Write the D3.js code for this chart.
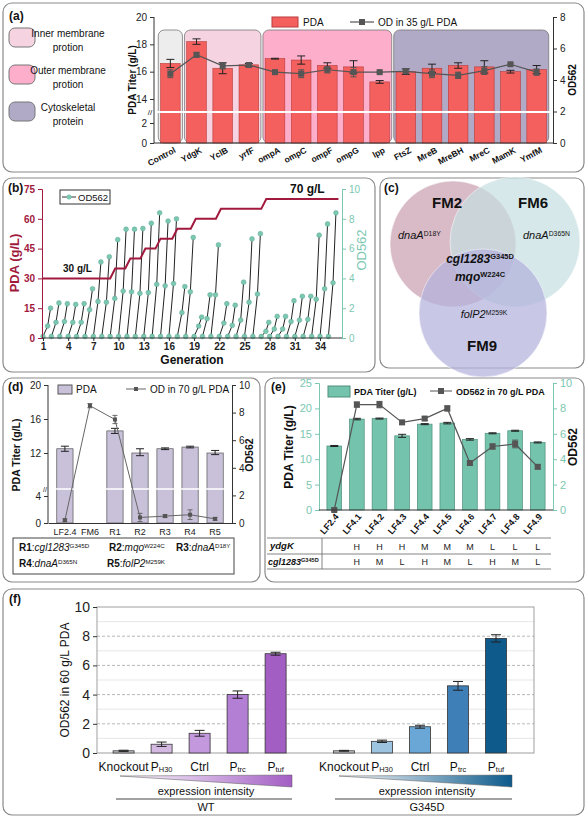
<!DOCTYPE html>
<html><head><meta charset="utf-8">
<script src="https://cdn.jsdelivr.net/npm/d3@7"></script>
<style>
body{margin:0;background:#fff;font-family:"Liberation Sans",Arial,sans-serif}
text{font-family:"Liberation Sans",Arial,sans-serif}
</style></head><body>
<svg id="fig" width="588" height="818"></svg>
<script>
// ---- data: panel (a)
const aGenes = ["Control","YdgK","YclB","yrfF","ompA","ompC","ompF","ompG","lpp","FtsZ","MreB","MreBH","MreC","MamK","YmfM"];
const aPDA = [16.6,18.2,16.25,16.5,16.95,16.85,16.45,16.35,15.25,16.0,16.25,16.45,16.35,16.0,16.15];
const aPDAerr = [0.3,0.2,0.4,0.1,0.03,0.3,0.2,0.45,0.1,0.2,0.3,0.2,0.45,0.1,0.3];
const aOD = [4.4,5.6,4.9,4.95,4.5,4.4,4.65,4.5,4.5,4.55,4.4,4.3,4.6,5.0,4.5];
const aODerr = [0.25,0.15,0.2,0.15,0.1,0.25,0.2,0.3,0.05,0.15,0.25,0.2,0.25,0.05,0.2];
const aGroups = [["Control","Control","#ededed"],["YdgK","yrfF","#f6d3e1"],["ompA","lpp","#fcaecb"],["FtsZ","YmfM","#b1aac6"]];

// ---- panel (b)
const bStep = [[1,30],[9,30],[9.6,35],[10.8,35],[11.4,40],[12.6,40],[13.2,45],[14.4,45],[15,50],[16.4,50],[17,55],[18.6,55],[19.2,60],[21.6,60],[22.2,65],[27,65],[27.6,70],[36.2,70]];
const bPeak = [2.0,2.35,2.3,2.25,2.3,3.3,5.1,5.45,6.6,7.3,7.3,7.35,7.7,8.4,7.85,8.0,3.45,6.75,1.4,2.9,6.25,2.3,2.2,3.75,6.65,7.0,1.05,1.45,1.45,2.5,2.8,2.8,6.9,7.65,8.4];
const bMid = [0.8,1.05,1.1,1.05,1.05,1.9,2.45,2.4,2.65,3.15,3.1,3.0,3.05,3.6,3.5,3.65,1.7,3.1,0.8,1.3,2.9,1.0,0.85,1.2,2.4,2.95,0.45,0.6,0.6,1.1,1.2,1.25,2.6,3.3,3.7];
const bTicks = [1,4,7,10,13,16,19,22,25,28,31,34];

// ---- panel (d)
const dCats = ["LF2.4","FM6","R1","R2","R3","R4","R5"];
const dPDA = [12.5,null,14.6,12.0,12.5,12.7,12.0];
const dPDAerr = [0.3,null,0.3,0.5,0.1,0.1,0.3];
const dOD = [0.2,8.5,7.5,0.4,0.5,0.6,0.3];
const dODerr = [0.1,0.15,0.3,0.3,0.1,0.35,0.1];

// ---- panel (e)
const eCats = ["LF2.4","LF4.1","LF4.2","LF4.3","LF4.4","LF4.5","LF4.6","LF4.7","LF4.8","LF4.9"];
const ePDA = [12.6,17.9,18.0,14.6,16.9,17.1,13.9,15.1,15.6,13.3];
const ePDAerr = [0.1,0.15,0.1,0.3,0.1,0.15,0.15,0.1,0.1,0.1];
const eOD = [0,8.3,8.3,6.9,7.2,8.0,3.7,5.0,5.2,3.4];
const eODerr = [0.1,0.2,0.25,0.15,0.15,0.2,0.15,0.2,0.3,0.15];
const eYdgK = ["","H","H","H","M","M","M","L","L","L"];
const eCgl = ["","H","M","L","H","M","L","H","M","L"];

// ---- panel (f)
const fCats = ["Knockout","PH30","Ctrl","Ptrc","Ptuf"];
const fWT = [0.15,0.6,1.35,4.0,6.8];
const fWTerr = [0.04,0.15,0.2,0.25,0.1];
const fG = [0.15,0.8,1.8,4.6,7.85];
const fGerr = [0.03,0.08,0.1,0.3,0.25];
const fWTcol = ["#c9c2cc","#d3b8e2","#c498dc","#b27fd4","#a35ec4"];
const fGcol = ["#c8cbd0","#9cc3e0","#6ba7d6","#3e7fb8","#0d5a8b"];

const svg = d3.select("#fig");
const box = (x,y,w,h)=>svg.append("rect").attr("x",x).attr("y",y).attr("width",w).attr("height",h)
  .attr("rx",9).attr("fill","none").attr("stroke","#8a8a8a").attr("stroke-width",1.2);
const txt = (g,x,y,s,o={})=>{const t=g.append("text").attr("x",x).attr("y",y).text(s)
  .attr("font-size",o.size||10).attr("fill",o.fill||"#111").attr("text-anchor",o.anchor||"start")
  .attr("font-weight",o.bold?"bold":null).attr("font-style",o.italic?"italic":null);
  if(o.rot!=null) t.attr("transform",`rotate(${o.rot},${x},${y})`); return t;};
// text with super/subscript: parts = [[str, 1=sup/2=sub, italic?, bold?],...]
const rich = (g,x,y,parts,o={})=>{const t=g.append("text").attr("x",x).attr("y",y)
  .attr("font-size",o.size||10).attr("text-anchor",o.anchor||"start").attr("fill","#111");
  parts.forEach(p=>{const s=t.append("tspan").text(p[0]);
    if(p[1]) s.attr("font-size",(o.size||10)*0.62).attr("baseline-shift",p[1]==2?"-15%":"super");
    if(p[2]) s.attr("font-style","italic"); if(p[3]||o.bold) s.attr("font-weight","bold");});
  return t;};
const styleAxis = (g,fs)=>{g.selectAll("text").attr("font-size",fs||10).attr("fill","#222");
  g.selectAll("path,line").attr("stroke","#333");};
const errBar = (g,x,y0,y1,w,col)=>{g.append("line").attr("x1",x).attr("x2",x).attr("y1",y0).attr("y2",y1).attr("stroke",col||"#222");
  [y0,y1].forEach(y=>g.append("line").attr("x1",x-w).attr("x2",x+w).attr("y1",y).attr("y2",y).attr("stroke",col||"#222"));};

// =============== (a)
box(3,3,581,169);
const ga = svg.append("g");
txt(ga,9,20,"(a)",{size:12,bold:true});
const ax = d3.scaleBand().domain(aGenes).range([154,553]).padding(0.25);
const ayL = d3.scaleLinear().domain([0,2,14,20]).range([143,123,99,17]);
const ayR = d3.scaleLinear().domain([0,8]).range([143,17]);
aGroups.forEach(([a,b,c])=>{
  ga.append("rect").attr("x",ax(a)-ax.step()*ax.padding()/2+1).attr("y",30)
    .attr("width",ax(b)+ax.bandwidth()+ax.step()*ax.padding()/2-ax(a)+ax.step()*ax.padding()/2-2)
    .attr("height",143-30).attr("rx",6).attr("fill",c).attr("stroke","#777").attr("stroke-width",0.8);});
ga.selectAll(".abar").data(aGenes).join("rect").attr("x",d=>ax(d)).attr("y",(d,i)=>ayL(aPDA[i]))
  .attr("width",ax.bandwidth()).attr("height",(d,i)=>143-ayL(aPDA[i])).attr("fill","#f3605e").attr("stroke","#b83a3a").attr("stroke-width",0.6);
ga.append("line").attr("x1",155).attr("x2",552).attr("y1",112).attr("y2",112).attr("stroke","#fff").attr("stroke-width",2);
aGenes.forEach((d,i)=>errBar(ga,ax(d)+ax.bandwidth()/2,ayL(aPDA[i]-aPDAerr[i]),ayL(aPDA[i]+aPDAerr[i]),4,"#222"));
const aLine = d3.line().x((d,i)=>ax(aGenes[i])+ax.bandwidth()/2).y(d=>ayR(d));
ga.append("path").attr("d",aLine(aOD)).attr("fill","none").attr("stroke","#555").attr("stroke-width",1.2);
aGenes.forEach((d,i)=>{const x=ax(d)+ax.bandwidth()/2; errBar(ga,x,ayR(aOD[i]-aODerr[i]),ayR(aOD[i]+aODerr[i]),3,"#555");
  ga.append("rect").attr("x",x-3).attr("y",ayR(aOD[i])-3).attr("width",6).attr("height",6).attr("fill","#555");});
const aL = ga.append("g").attr("transform","translate(154,0)").call(d3.axisLeft(ayL).tickValues([0,2,14,16,18,20]).tickSize(4));
styleAxis(aL,10); aL.select(".domain").remove();
ga.append("line").attr("x1",154).attr("x2",154).attr("y1",17).attr("y2",143).attr("stroke","#333");
txt(ga,150,115,"//",{size:8,anchor:"middle"});
const aR = ga.append("g").attr("transform","translate(553,0)").call(d3.axisRight(ayR).ticks(4).tickSize(4));
styleAxis(aR,10);
ga.append("line").attr("x1",154).attr("x2",553).attr("y1",143).attr("y2",143).attr("stroke","#333");
aGenes.forEach(d=>txt(ga,ax(d)+ax.bandwidth()/2+6,152,d,{size:8.5,bold:true,anchor:"end",rot:-28}));
txt(ga,136,80,"PDA Titer (g/L)",{size:10,bold:true,anchor:"middle",rot:-90});
txt(ga,576,80,"OD562",{size:10,bold:true,anchor:"middle",rot:-90});
ga.append("rect").attr("x",272).attr("y",17).attr("width",26).attr("height",10).attr("fill","#f3605e").attr("stroke","#b83a3a");
txt(ga,303,26,"PDA",{size:10});
ga.append("line").attr("x1",350).attr("x2",374).attr("y1",22).attr("y2",22).attr("stroke","#555").attr("stroke-width",1.2);
ga.append("rect").attr("x",359).attr("y",19).attr("width",6).attr("height",6).attr("fill","#555");
txt(ga,378,26,"OD in 35 g/L PDA",{size:10});
[[28,"#f6d3e1","Inner membrane","protion"],[65,"#fcaecb","Outer membrane","protion"],[102,"#b1aac6","Cytoskeletal","protein"]].forEach(([y,c,l1,l2])=>{
  ga.append("rect").attr("x",9).attr("y",y).attr("width",26).attr("height",19).attr("rx",6).attr("fill",c).attr("stroke","#777");
  txt(ga,68,y+9,l1,{size:10,anchor:"middle"}); txt(ga,68,y+23,l2,{size:10,anchor:"middle"});});

// =============== (b)
box(3,178,372,194);
const gb = svg.append("g");
txt(gb,8,192,"(b)",{size:12,bold:true});
const bx = d3.scaleLinear().domain([1,34]).range([43,320]);
const byL = d3.scaleLinear().domain([0,75]).range([338,189]);
const byR = d3.scaleLinear().domain([0,10]).range([338,189]);
bPeak.forEach((p,i)=>{const k=i+1;
  const pts=[[k,0.1],[k+0.55,bMid[i]],[k+0.9,p]];
  gb.append("path").attr("d",d3.line().x(d=>bx(d[0])).y(d=>byR(d[1]))(pts)).attr("fill","none").attr("stroke","#222").attr("stroke-width",1);
  pts.forEach(d=>gb.append("circle").attr("cx",bx(d[0])).attr("cy",byR(d[1])).attr("r",2.4).attr("fill","#7cc7b1").attr("stroke","#5aa893").attr("stroke-width",0.5));});
gb.append("path").attr("d",d3.line().x(d=>bx(d[0])).y(d=>byL(d[1]))(bStep)).attr("fill","none").attr("stroke","#a11a3e").attr("stroke-width",2);
const bL = gb.append("g").attr("transform","translate(42,0)").call(d3.axisLeft(byL).tickValues([0,15,30,45,60,75]).tickSize(4));
bL.selectAll("path,line").attr("stroke","#a11a3e"); bL.selectAll("text").attr("fill","#a11a3e").attr("font-size",10).attr("font-weight","bold");
const bR = gb.append("g").attr("transform","translate(342,0)").call(d3.axisRight(byR).ticks(5).tickSize(4));
bR.selectAll("path,line").attr("stroke","#7cc7b1"); bR.selectAll("text").attr("fill","#7cc7b1").attr("font-size",10);
const bB = gb.append("g").attr("transform","translate(0,338)").call(d3.axisBottom(bx).tickValues(bTicks).tickSize(3));
styleAxis(bB,10); bB.selectAll("text").attr("font-weight","bold").attr("dy","0.6em"); bB.select(".domain").attr("d","M42,0H342");
txt(gb,192,364,"Generation",{size:12,bold:true,anchor:"middle"});
txt(gb,19,263,"PDA  (g/L)",{size:13,bold:true,anchor:"middle",rot:-90,fill:"#a11a3e"});
txt(gb,366,250,"OD562",{size:13,anchor:"middle",rot:-90,fill:"#7cc7b1"});
txt(gb,63,272,"30 g/L",{size:10,bold:true});
txt(gb,290,193,"70 g/L",{size:12,bold:true});
gb.append("rect").attr("x",60).attr("y",190).attr("width",50).attr("height",14).attr("fill","#fff").attr("stroke","#333");
gb.append("line").attr("x1",62).attr("x2",76).attr("y1",197).attr("y2",197).attr("stroke","#333");
gb.append("circle").attr("cx",69).attr("cy",197).attr("r",2.5).attr("fill","#7cc7b1");
txt(gb,78,201,"OD562",{size:9.5});

// =============== (c)
box(380,178,204,190);
const gc = svg.append("g");
[[453,244,63,"#c9a1b2"],[515,242,65,"#c6dfe0"],[483,313,64,"#b3b2dc"]].forEach(([x,y,r,c])=>
  gc.append("circle").attr("cx",x).attr("cy",y).attr("r",r).attr("fill",c).attr("fill-opacity",0.72).attr("stroke","#fff").attr("stroke-width",0.5));
txt(gc,384,192,"(c)",{size:12,bold:true});
txt(gc,447,208,"FM2",{size:15,bold:true,anchor:"middle"});
txt(gc,533,208,"FM6",{size:15,bold:true,anchor:"middle"});
txt(gc,482,351,"FM9",{size:15,bold:true,anchor:"middle"});
rich(gc,398,239,[["dnaA",0,1],["D18Y",1]],{size:11});
rich(gc,523,239,[["dnaA",0,1],["D365N",1]],{size:11});
rich(gc,480,263,[["cgl1283",0,1],["G345D",1]],{size:12,bold:true,anchor:"middle"});
rich(gc,480,281,[["mqo",0,1],["W224C",1]],{size:12,bold:true,anchor:"middle"});
rich(gc,484,318,[["folP2",0,1],["M259K",1]],{size:11,anchor:"middle"});

// =============== (d)
box(3,378,257,204);
const gd = svg.append("g");
txt(gd,8,391,"(d)",{size:12,bold:true});
const dx = d3.scaleBand().domain(dCats).range([48,232]).padding(0.35);
const dyL = d3.scaleLinear().domain([0,4,12,20]).range([523,496,453,385]);
const dyR = d3.scaleLinear().domain([0,10]).range([523,385]);
dCats.forEach((c,i)=>{ if(dPDA[i]==null) return;
  gd.append("rect").attr("x",dx(c)).attr("y",dyL(dPDA[i])).attr("width",dx.bandwidth()).attr("height",523-dyL(dPDA[i]))
    .attr("fill","#c9c1da").attr("stroke","#555").attr("stroke-width",0.7);});
gd.append("line").attr("x1",49).attr("x2",231).attr("y1",489).attr("y2",489).attr("stroke","#fff").attr("stroke-width",1.5);
dCats.forEach((c,i)=>{ if(dPDA[i]==null) return; const x=dx(c)+dx.bandwidth()/2;
  errBar(gd,x,dyL(dPDA[i]-dPDAerr[i]),dyL(dPDA[i]+dPDAerr[i]),4);});
gd.append("path").attr("d",d3.line().x((d,i)=>dx(dCats[i])+dx.bandwidth()/2).y(d=>dyR(d))(dOD)).attr("fill","none").attr("stroke","#666");
dCats.forEach((c,i)=>{const x=dx(c)+dx.bandwidth()/2; errBar(gd,x,dyR(dOD[i]-dODerr[i]),dyR(dOD[i]+dODerr[i]),2.5,"#666");
  gd.append("rect").attr("x",x-2).attr("y",dyR(dOD[i])-2).attr("width",4).attr("height",4).attr("fill","#555");});
const dL = gd.append("g").attr("transform","translate(48,0)").call(d3.axisLeft(dyL).tickValues([0,4,12,16,20]).tickSize(4));
styleAxis(dL,10); dL.select(".domain").remove();
gd.append("line").attr("x1",48).attr("x2",48).attr("y1",385).attr("y2",523).attr("stroke","#333");
txt(gd,45,492,"//",{size:7,anchor:"middle"});
const dR = gd.append("g").attr("transform","translate(232,0)").call(d3.axisRight(dyR).ticks(5).tickSize(4));
styleAxis(dR,10);
const dB = gd.append("g").attr("transform","translate(0,523)").call(d3.axisBottom(dx).tickSize(0));
styleAxis(dB,9); dB.selectAll("text").attr("dy","1em");
txt(gd,20,455,"PDA Titer (g/L)",{size:10.5,bold:true,anchor:"middle",rot:-90});
txt(gd,253,455,"OD562",{size:10.5,bold:true,anchor:"middle",rot:-90});
gd.append("rect").attr("x",58).attr("y",385).attr("width",14).attr("height",9).attr("fill","#c9c1da").attr("stroke","#555");
txt(gd,76,393,"PDA",{size:10});
gd.append("line").attr("x1",126).attr("x2",146).attr("y1",389).attr("y2",389).attr("stroke","#666");
gd.append("rect").attr("x",134).attr("y",387).attr("width",4).attr("height",4).attr("fill","#555");
txt(gd,150,393,"OD in 70 g/L PDA",{size:10});
gd.append("rect").attr("x",13).attr("y",538).attr("width",221).attr("height",36).attr("fill","none").attr("stroke","#444");
rich(gd,19,551,[["R1",0,0,1],[":"],["cgl1283",0,1],["G345D",1]],{size:10});
rich(gd,109,551,[["R2",0,0,1],[":"],["mqo",0,1],["W224C",1]],{size:10});
rich(gd,176,551,[["R3",0,0,1],[":"],["dnaA",0,1],["D18Y",1]],{size:10});
rich(gd,19,567,[["R4",0,0,1],[":"],["dnaA",0,1],["D365N",1]],{size:10});
rich(gd,107,567,[["R5",0,0,1],[":"],["folP2",0,1],["M259K",1]],{size:10});

// =============== (e)
box(265,378,319,204);
const ge = svg.append("g");
txt(ge,271,391,"(e)",{size:12,bold:true});
const ex = d3.scaleBand().domain(eCats).range([319,553]).padding(0.35);
const eyL = d3.scaleLinear().domain([0,25]).range([510,383]);
const eyR = d3.scaleLinear().domain([0,10]).range([510,383]);
ge.selectAll(".ebar").data(eCats).join("rect").attr("x",d=>ex(d)).attr("y",(d,i)=>eyL(ePDA[i])).attr("width",ex.bandwidth())
  .attr("height",(d,i)=>510-eyL(ePDA[i])).attr("fill","#74c3ac").attr("stroke","#4e8f7e").attr("stroke-width",0.7);
eCats.forEach((c,i)=>errBar(ge,ex(c)+ex.bandwidth()/2,eyL(ePDA[i]-ePDAerr[i]),eyL(ePDA[i]+ePDAerr[i]),4));
ge.append("path").attr("d",d3.line().x((d,i)=>ex(eCats[i])+ex.bandwidth()/2).y(d=>eyR(d))(eOD)).attr("fill","none").attr("stroke","#555").attr("stroke-width",1.2);
eCats.forEach((c,i)=>{const x=ex(c)+ex.bandwidth()/2; errBar(ge,x,eyR(eOD[i]-eODerr[i]),eyR(eOD[i]+eODerr[i]),3,"#555");
  ge.append("rect").attr("x",x-3).attr("y",eyR(eOD[i])-3).attr("width",6).attr("height",6).attr("fill","#555");});
const eL = ge.append("g").attr("transform","translate(319,0)").call(d3.axisLeft(eyL).ticks(5).tickSize(4));
styleAxis(eL,11); eL.selectAll("text").attr("fill","#7cc7b1"); eL.selectAll("path,line").attr("stroke","#7cc7b1");
const eR = ge.append("g").attr("transform","translate(553,0)").call(d3.axisRight(eyR).ticks(5).tickSize(4));
styleAxis(eR,11); eR.selectAll("text").attr("fill","#7cc7b1"); eR.selectAll("path,line").attr("stroke","#7cc7b1");
ge.append("line").attr("x1",319).attr("x2",553).attr("y1",510).attr("y2",510).attr("stroke","#333");
eCats.forEach(c=>txt(ge,ex(c)+ex.bandwidth()/2+5,517,c,{size:9,bold:true,anchor:"end",rot:-50}));
txt(ge,293,447,"PDA Titer (g/L)",{size:12,bold:true,anchor:"middle",rot:-90});
txt(ge,577,447,"OD562",{size:12,bold:true,anchor:"middle",rot:-90});
ge.append("rect").attr("x",328).attr("y",386).attr("width",22).attr("height",11).attr("fill","#74c3ac").attr("stroke","#4e8f7e");
txt(ge,354,395,"PDA Titer (g/L)",{size:9,bold:true});
ge.append("line").attr("x1",430).attr("x2",452).attr("y1",391).attr("y2",391).attr("stroke","#555");
ge.append("rect").attr("x",438).attr("y",388).attr("width",6).attr("height",6).attr("fill","#555");
txt(ge,456,395,"OD562  in 70 g/L PDA",{size:9,bold:true});
[538,554,569].forEach(y=>ge.append("line").attr("x1",267).attr("x2",551).attr("y1",y).attr("y2",y).attr("stroke","#666").attr("stroke-width",0.8));
ge.append("line").attr("x1",322).attr("x2",322).attr("y1",538).attr("y2",569).attr("stroke","#666").attr("stroke-width",0.8);
txt(ge,270,549,"ydgK",{size:9.5,bold:true,italic:true});
rich(ge,268,565,[["cgl1283",0,1,1],["G345D",1,0,1]],{size:9});
eCats.forEach((c,i)=>{const x=ex(c)+ex.bandwidth()/2;
  txt(ge,x,550,eYdgK[i],{size:9,anchor:"middle",fill:"#222"}); txt(ge,x,565,eCgl[i],{size:9,anchor:"middle",fill:"#222"});});

// =============== (f)
box(3,589,581,226);
const gf = svg.append("g");
txt(gf,9,603,"(f)",{size:12,bold:true});
const fx = d3.scaleLinear().domain([-0.7,10.8]).range([97,534]);
const fy = d3.scaleLinear().domain([0,10]).range([753,607]);
const fGrid = gf.append("g");
[1,2,3,4,5,6,7,8,9].forEach(v=>fGrid.append("line").attr("x1",97).attr("x2",534).attr("y1",fy(v)).attr("y2",fy(v))
  .attr("stroke",v%2?"#dcdcdc":"#9a9a9a").attr("stroke-width",0.7).attr("stroke-dasharray",v%2?null:"3,2"));
gf.append("rect").attr("x",97).attr("y",607).attr("width",437).attr("height",146).attr("fill","none").attr("stroke","#888").attr("stroke-width",0.8);
const fBars = [{vals:fWT,err:fWTerr,col:fWTcol,off:0},{vals:fG,err:fGerr,col:fGcol,off:5.8}];
fBars.forEach(s=>s.vals.forEach((v,i)=>{const x=fx(i+s.off);
  gf.append("rect").attr("x",x-10.5).attr("y",fy(v)).attr("width",21).attr("height",753-fy(v)).attr("fill",s.col[i]).attr("stroke","#333").attr("stroke-width",0.8);
  errBar(gf,x,fy(v-s.err[i]),fy(v+s.err[i]),5,"#222");
  const lab = fCats[i];
  if(lab.startsWith("P")) rich(gf,x,771,[["P"],[lab.slice(1),2]],{size:12,anchor:"middle"});
  else txt(gf,x,771,lab,{size:12,anchor:"middle"});}));
const fL = gf.append("g").attr("transform","translate(97,0)").call(d3.axisLeft(fy).tickValues([0,2,4,6,8,10]).tickSize(4));
styleAxis(fL,14); fL.select(".domain").remove();
txt(gf,69,680,"OD562 in 60 g/L PDA",{size:12,anchor:"middle",rot:-90});
const defs = svg.append("defs");
[["gWT","#ffffff","#a35ec4",120,292,206,"WT"],["gG","#ffffff","#0d5a8b",339,512,427,"G345D"]].forEach(([id,c0,c1,x0,x1,cx,lab])=>{
  const lg = defs.append("linearGradient").attr("id",id);
  lg.append("stop").attr("offset","0").attr("stop-color",c0);
  lg.append("stop").attr("offset","1").attr("stop-color",c1);
  gf.append("path").attr("d",`M${x0},776L${x1},775L${x1},787Z`).attr("fill",`url(#${id})`).attr("stroke","#555").attr("stroke-width",0.5);
  txt(gf,cx,795,"expression intensity",{size:11,anchor:"middle"});
  gf.append("line").attr("x1",x0-4).attr("x2",x1).attr("y1",799).attr("y2",799).attr("stroke","#444");
  txt(gf,cx,811,lab,{size:11,anchor:"middle"});});
</script></body></html>
